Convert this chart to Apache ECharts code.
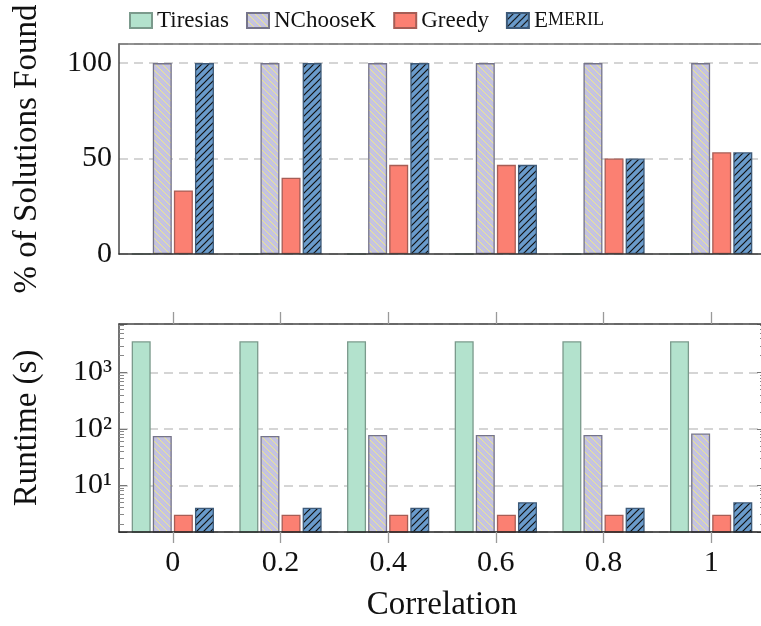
<!DOCTYPE html>
<html>
<head>
<meta charset="utf-8">
<script src="https://cdn.jsdelivr.net/npm/echarts@6/dist/echarts.min.js"></script>
<style>
html,body{margin:0;padding:0;background:#fff;}
#chart{width:761px;height:626px;}
</style>
</head>
<body>
<div id="chart"></div>
<script>
// ---- data ----
const categories = ['0', '0.2', '0.4', '0.6', '0.8', '1'];
const seriesNames = ['Tiresias', 'NChooseK', 'Greedy', 'Emeril'];
// % of solutions found
const solTiresias = [0, 0, 0, 0, 0, 0];
const solNChooseK = [100, 100, 100, 100, 100, 100];
const solGreedy = [33.3, 40, 46.7, 46.7, 50, 53.3];
const solEmeril = [100, 100, 100, 46.7, 50, 53.3];
// runtime (s)
const rtTiresias = [3600, 3600, 3600, 3600, 3600, 3600];
const rtNChooseK = [75, 75, 78, 78, 78, 83];
const rtGreedy = [3, 3, 3, 3, 3, 3];
const rtEmeril = [4, 4, 4, 5, 4, 5];
// tick labels
const solTicks = [0, 50, 100];
const solTickLabels = ['0', '50', '100'];
const rtTicks = [10, 100, 1000];
const rtTickLabels = ['10¹', '10²', '10³'];

// ---- styles ----
const FONT = 'Liberation Serif';

function hatch(bg, lineColor, dir, size, lw) {
  const c = document.createElement('canvas');
  c.width = size; c.height = size;
  const g = c.getContext('2d');
  g.fillStyle = bg; g.fillRect(0, 0, size, size);
  g.strokeStyle = lineColor; g.lineWidth = lw;
  g.beginPath();
  if (dir === 'nw') { // "\" lines
    g.moveTo(-1, -1); g.lineTo(size + 1, size + 1);
    g.moveTo(-1, size - 1); g.lineTo(1, size + 1);
    g.moveTo(size - 1, -1); g.lineTo(size + 1, 1);
  } else { // "/" lines
    g.moveTo(-1, size + 1); g.lineTo(size + 1, -1);
    g.moveTo(-1, 1); g.lineTo(1, -1);
    g.moveTo(size - 1, size + 1); g.lineTo(size + 1, size - 1);
  }
  g.stroke();
  return { image: c, repeat: 'repeat' };
}

const styles = {
  Tiresias: { color: '#b3e2cd', borderColor: '#7b9a8c', borderWidth: 1.3 },
  NChooseK: { color: hatch('#c5c3e0', '#eeea8a', 'nw', 7, 1), borderColor: '#75748a', borderWidth: 1.3 },
  Greedy: { color: '#fb8072', borderColor: '#a65d55', borderWidth: 1.3 },
  Emeril: { color: hatch('#6a9bcb', '#111111', 'ne', 7, 1.2), borderColor: '#3e5a78', borderWidth: 1.3 }
};

const solData = [solTiresias, solNChooseK, solGreedy, solEmeril];
const rtData = [rtTiresias, rtNChooseK, rtGreedy, rtEmeril];

const series = [];
seriesNames.forEach((n, i) => {
  series.push({
    name: n, type: 'bar', xAxisIndex: 0, yAxisIndex: 0,
    data: solData[i], barWidth: 19, barGap: '11%',
    itemStyle: styles[n], emphasis: { disabled: true }
  });
});
seriesNames.forEach((n, i) => {
  series.push({
    name: n, type: 'bar', xAxisIndex: 2, yAxisIndex: 1,
    data: rtData[i], barWidth: 19, barGap: '11%',
    itemStyle: styles[n], emphasis: { disabled: true }
  });
});

const gridW = 646;
const splitLine = { show: true, lineStyle: { color: '#c8c8c8', width: 1.5, type: [9, 6] } };
const NAME_SIZE = 33;

const option = {
  animation: false,
  backgroundColor: '#fff',
  textStyle: { fontFamily: FONT },
  legend: {
    left: 124, top: 4,
    icon: 'rect',
    itemWidth: 22, itemHeight: 15, itemGap: 17,
    data: seriesNames,
    textStyle: {
      fontFamily: FONT, fontSize: 23, color: '#111',
      rich: {
        big: { fontFamily: FONT, fontSize: 23, color: '#111' },
        sc: { fontFamily: FONT, fontSize: 18, color: '#111' }
      }
    },
    formatter: function (name) {
      if (name === 'Emeril') return '{big|E}{sc|MERIL}';
      return name;
    }
  },
  grid: [
    { left: 119, top: 44, width: gridW, height: 210, outerBoundsMode: 'none', containLabel: false, show: false },
    { left: 119, top: 324, width: gridW, height: 208, outerBoundsMode: 'none', containLabel: false, show: false }
  ],
  xAxis: [
    {
      type: 'category', gridIndex: 0, data: categories, z: 5,
      axisLine: { show: true, lineStyle: { color: '#333', width: 1.5 } },
      axisTick: { show: false }, axisLabel: { show: false }, splitLine: { show: false }
    },
    {
      type: 'category', gridIndex: 0, data: categories, position: 'top', z: 5,
      axisLine: { show: true, lineStyle: { color: '#707070', width: 1.5 } },
      axisTick: { show: false }, axisLabel: { show: false }, splitLine: { show: false }
    },
    {
      type: 'category', gridIndex: 1, data: categories, z: 5,
      axisLine: { show: true, lineStyle: { color: '#222', width: 1.5 } },
      axisTick: { show: true, alignWithLabel: true, length: 11, lineStyle: { color: '#9a9a9a', width: 1.3 } },
      axisLabel: { fontFamily: FONT, fontSize: 30, color: '#111', margin: 16 },
      name: 'Correlation', nameLocation: 'middle', nameGap: 57,
      nameTextStyle: { fontFamily: FONT, fontSize: NAME_SIZE, color: '#111' }
    },
    {
      type: 'category', gridIndex: 1, data: categories, position: 'top', z: 5,
      axisLine: { show: true, lineStyle: { color: '#444', width: 1.5 } },
      axisTick: { show: true, alignWithLabel: true, length: 12, lineStyle: { color: '#9a9a9a', width: 1.3 } },
      axisLabel: { show: false }
    }
  ],
  yAxis: [
    {
      type: 'value', gridIndex: 0, min: 0, max: 110, interval: 50,
      axisLine: { show: true, lineStyle: { color: '#444', width: 1.5 } },
      axisTick: { show: false },
      axisLabel: {
        fontFamily: FONT, fontSize: 30, color: '#111', margin: 7,
        showMaxLabel: false,
        formatter: function (v) { const k = solTicks.indexOf(v); return k >= 0 ? solTickLabels[k] : ''; }
      },
      splitLine: splitLine,
      name: '% of Solutions Found', nameLocation: 'middle', nameGap: 75,
      nameTextStyle: { fontFamily: FONT, fontSize: NAME_SIZE, color: '#111' }
    },
    {
      type: 'log', logBase: 10, gridIndex: 1, min: 1.48, max: 7300,
      axisLine: { show: true, lineStyle: { color: '#444', width: 1.5 } },
      axisTick: { show: true, inside: true, length: 8, lineStyle: { color: '#777', width: 1 } },
      minorTick: { show: true, splitNumber: 9, length: 5, lineStyle: { color: '#888', width: 1 } },
      axisLabel: {
        fontFamily: FONT, fontSize: 30, color: '#111', margin: 7,
        showMinLabel: false, showMaxLabel: false,
        formatter: function (v) {
          for (let k = 0; k < rtTicks.length; k++) {
            if (Math.abs(v - rtTicks[k]) / rtTicks[k] < 1e-6) return rtTickLabels[k];
          }
          return '';
        }
      },
      splitLine: splitLine,
      name: 'Runtime (s)', nameLocation: 'middle', nameGap: 75,
      nameTextStyle: { fontFamily: FONT, fontSize: NAME_SIZE, color: '#111' }
    },
    {
      type: 'log', logBase: 10, gridIndex: 1, min: 1.48, max: 7300, position: 'right',
      axisLine: { show: false },
      axisTick: { show: true, inside: true, length: 8, lineStyle: { color: '#777', width: 1 } },
      minorTick: { show: true, splitNumber: 9, length: 5, lineStyle: { color: '#888', width: 1 } },
      axisLabel: { show: false },
      splitLine: { show: false }
    }
  ],
  series: series
};

const chart = echarts.init(document.getElementById('chart'), null, { renderer: 'canvas' });
chart.setOption(option);
</script>
</body>
</html>
